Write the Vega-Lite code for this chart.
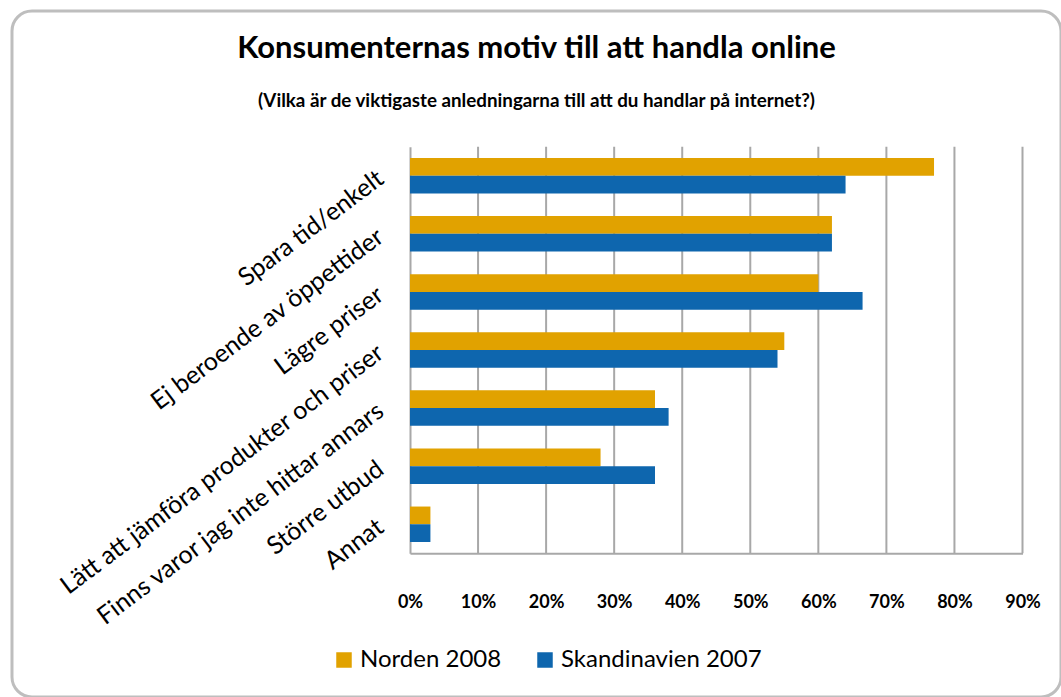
{
  "$schema": "https://vega.github.io/schema/vega-lite/v6.json",
  "autosize": {"type": "none"},
  "padding": {"left": 12, "top": 11, "right": 0, "bottom": 0},
  "width": 1049,
  "height": 686,
  "background": "white",
  "title": {
    "text": "Konsumenternas motiv till att handla online",
    "subtitle": "(Vilka är de viktigaste anledningarna till att du handlar på internet?)",
    "anchor": "middle",
    "frame": "group",
    "offset": -101,
    "font": "Lato",
    "fontSize": 31,
    "fontWeight": "bold",
    "color": "#000000",
    "subtitleFont": "Lato",
    "subtitleFontSize": 18.8,
    "subtitleFontWeight": "bold",
    "subtitleColor": "#000000",
    "subtitlePadding": 27
  },
  "datasets": {
    "bars": [
      {"motiv": "Spara tid/enkelt", "serie": "Norden 2008", "andel": 0.77},
      {"motiv": "Spara tid/enkelt", "serie": "Skandinavien 2007", "andel": 0.64},
      {"motiv": "Ej beroende av öppettider", "serie": "Norden 2008", "andel": 0.62},
      {"motiv": "Ej beroende av öppettider", "serie": "Skandinavien 2007", "andel": 0.62},
      {"motiv": "Lägre priser", "serie": "Norden 2008", "andel": 0.60},
      {"motiv": "Lägre priser", "serie": "Skandinavien 2007", "andel": 0.665},
      {"motiv": "Lätt att jämföra produkter och priser", "serie": "Norden 2008", "andel": 0.55},
      {"motiv": "Lätt att jämföra produkter och priser", "serie": "Skandinavien 2007", "andel": 0.54},
      {"motiv": "Finns varor jag inte hittar annars", "serie": "Norden 2008", "andel": 0.36},
      {"motiv": "Finns varor jag inte hittar annars", "serie": "Skandinavien 2007", "andel": 0.38},
      {"motiv": "Större utbud", "serie": "Norden 2008", "andel": 0.28},
      {"motiv": "Större utbud", "serie": "Skandinavien 2007", "andel": 0.36},
      {"motiv": "Annat", "serie": "Norden 2008", "andel": 0.03},
      {"motiv": "Annat", "serie": "Skandinavien 2007", "andel": 0.03}
    ],
    "grid": [
      {"v": 0.1}, {"v": 0.2}, {"v": 0.3}, {"v": 0.4}, {"v": 0.5},
      {"v": 0.6}, {"v": 0.7}, {"v": 0.8}, {"v": 0.9}
    ]
  },
  "layer": [
    {
      "data": {"name": "grid"},
      "mark": {"type": "rule", "color": "#a8a8a8", "strokeWidth": 2},
      "encoding": {
        "x": {"field": "v", "type": "quantitative", "title": null},
        "y": {"datum": 0, "type": "quantitative", "scale": {"domain": [0, 1], "range": [135.7, 542.3]}, "axis": null},
        "y2": {"datum": 1}
      }
    },
    {
      "data": {"name": "bars"},
      "mark": {"type": "bar"},
      "encoding": {
        "y": {
          "field": "motiv",
          "type": "nominal",
          "sort": null,
          "title": null,
          "scale": {"range": [135.7, 542.3], "paddingInner": 0.39, "paddingOuter": 0.195},
          "axis": {
            "offset": -398,
            "labelAngle": -37,
            "labelAlign": "right",
            "labelBaseline": "middle",
            "labelFont": "Lato",
            "labelFontSize": 25,
            "labelColor": "#000000",
            "labelPadding": 30,
            "ticks": false,
            "tickSize": 0,
            "grid": false,
            "domainColor": "#a8a8a8",
            "domainWidth": 2,
            "labelLimit": 0
          }
        },
        "yOffset": {"field": "serie", "type": "nominal", "sort": ["Norden 2008", "Skandinavien 2007"], "scale": {"paddingInner": 0, "paddingOuter": 0}},
        "x": {
          "field": "andel",
          "type": "quantitative",
          "title": null,
          "scale": {"domain": [0, 0.9], "range": [398, 1010.5], "nice": false, "zero": true},
          "axis": {
            "offset": -143.7,
            "values": [0, 0.1, 0.2, 0.3, 0.4, 0.5, 0.6, 0.7, 0.8, 0.9],
            "format": ".0%",
            "grid": false,
            "ticks": false,
            "tickSize": 0,
            "labelPadding": 40,
            "labelFont": "Lato",
            "labelFontSize": 18,
            "labelFontWeight": "bold",
            "labelColor": "#000000",
            "domainColor": "#a8a8a8",
            "domainWidth": 2,
            "labelFlush": false
          }
        },
        "color": {
          "field": "serie",
          "type": "nominal",
          "sort": ["Norden 2008", "Skandinavien 2007"],
          "scale": {"domain": ["Norden 2008", "Skandinavien 2007"], "range": ["#E1A200", "#0E66AE"]},
          "legend": {
            "title": null,
            "orient": "none",
            "legendX": 320,
            "legendY": 637,
            "direction": "horizontal",
            "symbolType": "square",
            "symbolSize": 240,
            "symbolStrokeWidth": 0,
            "symbolOpacity": 1,
            "labelFont": "Lato",
            "labelFontSize": 24,
            "labelColor": "#000000",
            "labelOffset": 4,
            "columnPadding": 31,
            "padding": 0,
            "labelLimit": 0
          }
        }
      }
    }
  ],
  "resolve": {"scale": {"y": "independent"}, "axis": {"y": "independent"}},
  "config": {
    "view": {"stroke": "#bebebe", "strokeWidth": 3, "cornerRadius": 20}
  }
}
